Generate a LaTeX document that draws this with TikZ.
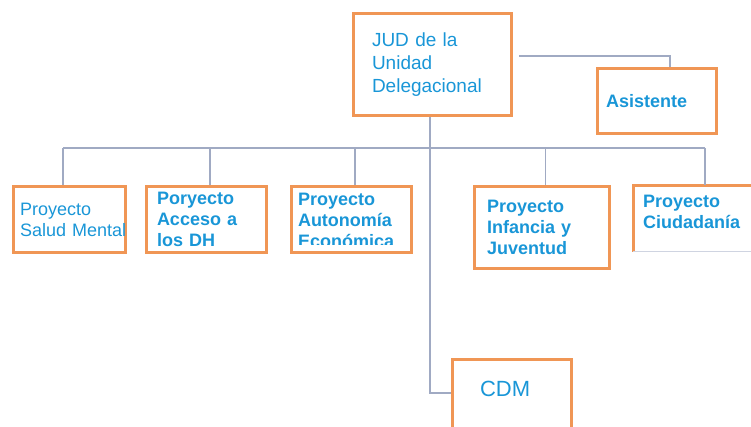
\documentclass[tikz,border=0pt]{standalone}
\usepackage{fontspec}
\setmainfont{Liberation Sans}
\definecolor{boxorange}{RGB}{240,150,85}
\definecolor{txtblue}{RGB}{25,150,215}
\definecolor{linegrey}{RGB}{160,170,195}
\begin{document}
\begin{tikzpicture}[x=1pt, y=-1pt,
box/.style={rectangle, draw=boxorange, line width=3pt, text=txtblue, align=left, inner ysep=0pt},
plain/.style={font=\fontsize{18}{21}\selectfont},
heavy/.style={font=\fontsize{18}{21}\selectfont\bfseries},
link/.style={draw=linegrey, line width=1.5pt},
]
\clip (0,0) rectangle (751,426);
\node[box, font=\fontsize{19}{23}\selectfont, minimum height=102, text width=121, inner xsep=18.5] (jud) at (432.5,64.5) {JUD de la\\Unidad\\Delegacional};
\node[box, heavy, minimum height=65, text width=102, inner xsep=8.5] (asis) at (657,101) {Asistente};
\node[box, plain, minimum height=66, text width=99, inner xsep=6.5] (salud) at (69.5,219.5) {Proyecto\\\mbox{Salud Mental}};
\node[box, heavy, minimum height=66, text width=99, inner xsep=10.5] (acceso) at (206.5,219.5) {Poryecto\\Acceso a\\los DH};
\node[box, minimum width=120, minimum height=66] (auton) at (351.5,219.5) {};
\begin{scope}
\clip (auton.north west) rectangle ([yshift=10]auton.south east);
\node[heavy, text=txtblue, align=left, text width=107, inner sep=0pt] (autontext) at ([yshift=-1]auton) {Proyecto\\Autonomía\\Económica};
\end{scope}
\node[box, heavy, minimum height=82, text width=110, inner xsep=12.5] (infa) at (542,227.5) {Proyecto\\Infancia y\\Juventud};
\node[box, draw=none, heavy, minimum height=51, text width=108.5, inner xsep=8.5] (ciud) at (697.25,212) {Proyecto\\Ciudadanía};
\draw[draw=boxorange, line width=3pt] ([yshift=-12.5]ciud.south west) |- (ciud.north east);
\draw[draw=linegrey!50, line width=1pt] ([yshift=-12.5]ciud.south west) -- ([yshift=-12.5]ciud.south east);
\node[box, font=\fontsize{22}{26}\selectfont, text width=64, inner xsep=27.5, text height=36.5, text depth=48.5] (cdm) at (512,402) {CDM};
% connectors
\coordinate (bus) at (430,148);
\draw[link] ([xshift=-2.5]jud.south) |- ([yshift=9]cdm.west);
\draw[link] ([xshift=6,yshift=8.5]jud.east) -| ([xshift=13]asis.north);
\draw[link] ([xshift=-6.5]salud.north |- bus) -- ([xshift=7.75]ciud.north |- bus);
\foreach \n/\dx in {salud/-6.5, acceso/3.5, auton/3.5, infa/3.5, ciud/7.75}
  \draw[link] ([xshift=\dx]\n.north) -- ([xshift=\dx]\n.north |- bus);
\end{tikzpicture}
\end{document}
